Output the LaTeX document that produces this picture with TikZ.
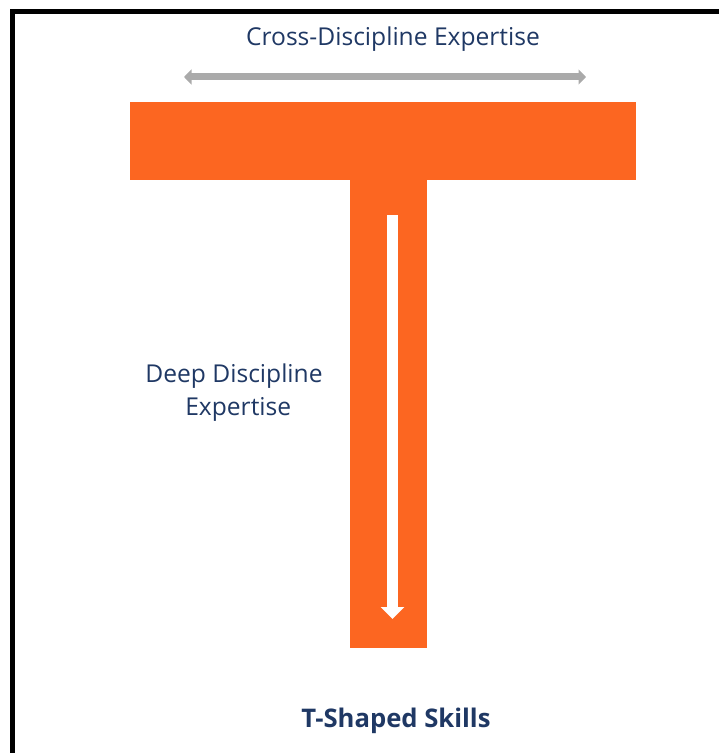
\documentclass[tikz,border=0pt]{standalone}
\usepackage{fontspec}
\setmainfont{Open Sans}
\usetikzlibrary{arrows.meta,positioning}
\definecolor{tsOrange}{HTML}{FC6621}
\definecolor{tsNavy}{HTML}{1F3864}
\definecolor{tsGray}{HTML}{AAAAAA}
\tikzset{
    bar/.style={fill=tsOrange, inner sep=0pt, outer sep=0pt},
    txt/.style={text=tsNavy, align=center, font=\fontsize{14}{18.7}\selectfont},
    widearrow/.style={{Triangle[length=0.15cm,width=0.3cm]}-{Triangle[length=0.15cm,width=0.3cm]}, line width=0.14cm, draw=tsGray},
    deeparrow/.style={-{Triangle[length=0.24cm,width=0.46cm]}, line width=0.22cm, draw=white}
}
\begin{document}
\begin{tikzpicture}[x=0.02cm, y=-0.02cm]
\useasboundingbox (0,0) rectangle (719,753);
% frame
\draw[line width=0.1cm, line cap=rect] (12.5,753) -- (12.5,11.5) -- (719,11.5);
% the T
\node[bar, minimum width=10.12cm, minimum height=1.56cm] (bar) at (383,141) {};
\node[bar, minimum width=1.54cm, minimum height=9.36cm] (stem) at (388.5,414) {};
% arrows
\coordinate (crossL) at (184,77);
\coordinate (crossR) at (586,77);
\coordinate (deepT) at (392.5,215);
\coordinate (deepB) at (392.5,619);
\draw[widearrow] (crossL) -- (crossR);
\draw[deeparrow] (deepT) -- (deepB);
% texts
\node[txt] (cross) at (393,39) {Cross-Discipline Expertise};
\node[txt] (deep) at (234,393) {Deep Discipline\\ \hspace*{0.17cm}Expertise};
\node[txt, font=\fontsize{14.6}{19}\selectfont\bfseries] (title) at (396,721) {T-Shaped Skills};
\end{tikzpicture}
\end{document}
